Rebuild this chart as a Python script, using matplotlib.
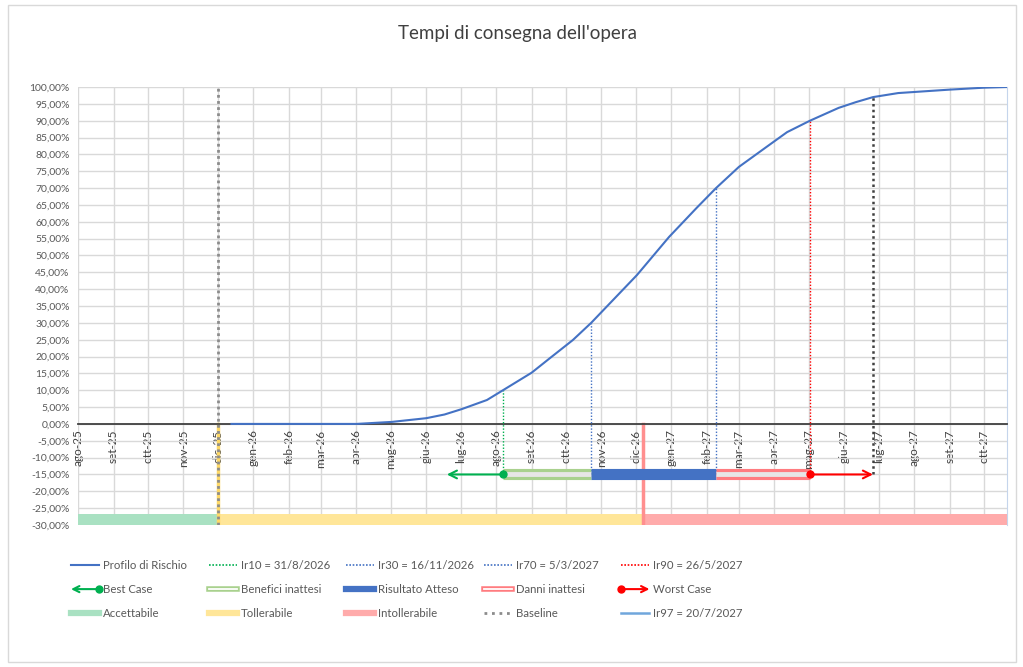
import numpy as np
import pandas as pd
import matplotlib
matplotlib.use("Agg")
import matplotlib.pyplot as plt
from matplotlib.lines import Line2D
from matplotlib.patches import FancyArrowPatch, Rectangle
from matplotlib.legend_handler import HandlerBase

plt.rcParams['font.family'] = ['Lato', 'DejaVu Sans']

# dati
curve_dates = ['2026-01-06', '2026-04-25', '2026-05-26', '2026-06-25', '2026-07-11',
               '2026-07-26', '2026-08-17', '2026-08-31', '2026-09-25', '2026-10-12',
               '2026-10-31', '2026-11-16', '2026-12-26', '2027-01-23', '2027-02-16',
               '2027-03-05', '2027-03-25', '2027-04-18', '2027-05-06', '2027-05-26',
               '2027-06-20', '2027-07-05', '2027-07-20', '2027-08-11', '2027-09-24',
               '2027-10-25', '2027-11-14']
curve_pct = [0.0, 0.0, 0.6, 1.7, 2.8, 4.4, 7.1, 10.0, 15.2, 19.8, 24.9, 30.0, 44.2,
             55.5, 64.1, 70.0, 76.3, 82.2, 86.6, 90.0, 93.8, 95.5, 97.0, 98.2, 99.2,
             99.8, 100.0]

ir_names = ['Ir10 = 31/8/2026', 'Ir30 = 16/11/2026', 'Ir70 = 5/3/2027',
            'Ir90 = 26/5/2027', 'Ir97 = 20/7/2027']
ir_dates = ['2026-08-31', '2026-11-16', '2027-03-05', '2027-05-26', '2027-07-20']
ir_pct = [10, 30, 70, 90, 97]

baseline_date = '2025-12-25'
intoll_date = '2026-12-31'
best_date = '2026-07-13'
axis_start = '2025-08-25'
axis_end = '2027-11-14'
bar_level = -15

mesi = ['gen', 'feb', 'mar', 'apr', 'mag', 'giu', 'lug', 'ago', 'set', 'ott', 'nov', 'dic']

D = lambda s: pd.Timestamp(s)
cd = [D(s) for s in curve_dates]
ird = [D(s) for s in ir_dates]

fig = plt.figure(figsize=(10.23, 6.67), dpi=100)
ax = fig.add_axes([78/1023, 1 - 525/667, (1007-78)/1023, (525-87)/667])

grey_txt = '#595959'

# griglia e assi
ax.set_xlim(D(axis_start), D(axis_end))
ax.set_ylim(-30, 100)
ticks = pd.date_range('2025-08-01', '2027-10-01', freq='MS') + pd.Timedelta(days=24)
ax.set_xticks(ticks)
ax.set_xticklabels([f"{mesi[t.month-1]}-{t.strftime('%y')}" for t in ticks])
ax.set_yticks(np.arange(-30, 101, 5))
ax.set_yticklabels([f"{v:.2f}%".replace('.', ',') for v in np.arange(-30, 101, 5)])
ax.tick_params(length=0, labelsize=7.5, labelcolor=grey_txt)
ax.tick_params(axis='y', pad=6)
ax.tick_params(axis='x', pad=4, labelrotation=90, labelsize=8.5, labelcolor='#404040')
ax.grid(True, color='#D9D9D9', lw=1)
ax.set_axisbelow(True)
for s in ['top', 'left']:
    ax.spines[s].set_visible(False)
ax.spines['right'].set_color('#C5D5EC')
ax.spines['bottom'].set_position(('data', 0))
ax.spines['bottom'].set_color('#404040')
ax.spines['bottom'].set_linewidth(1.3)
ax.spines['bottom'].set_zorder(3)

# fasce
ax.fill_between([D(axis_start), D(baseline_date)], -30, -26.8, color='#A9E1C2', lw=0, zorder=1)
ax.fill_between([D(baseline_date), D(intoll_date)], -30, -26.8, color='#FFE699', lw=0, zorder=1)
ax.fill_between([D(intoll_date), D(axis_end)], -30, -26.8, color='#FFABAB', lw=0, zorder=1)
ax.plot([D(baseline_date)] * 2, [-30, 0], color='#FFD966', lw=2.5, zorder=2)
ax.plot([D(intoll_date)] * 2, [-30, 0], color='#FF8F8F', lw=2.5, zorder=2)

# baseline
ax.plot([D(baseline_date)] * 2, [-30, 100], color='#8C8C8C', lw=2, ls=(0, (1, 1.2)), zorder=4)

# profilo di rischio
ax.plot(cd, curve_pct, color='#4472C4', lw=1.5, zorder=5)

# linee Ir
ir_style = [('#00B050', 1.0), ('#4472C4', 1.0), ('#4472C4', 1.0), ('#FF0000', 1.0), ('#404040', 1.8)]
for d, p, (c, w) in zip(ird, ir_pct, ir_style):
    ax.plot([d, d], [bar_level, p], color=c, lw=w, ls=(0, (1, 1.3)), zorder=4)

# barre a -15%
ax.plot([ird[0], ird[1]], [bar_level] * 2, color='#A9D18E', lw=8, solid_capstyle='butt', zorder=6)
ax.plot([ird[0], ird[1]], [bar_level] * 2, color='#E7E6E6', lw=3.5, solid_capstyle='butt', zorder=6)
ax.plot([ird[1], ird[2]], [bar_level] * 2, color='#4472C4', lw=8, solid_capstyle='butt', zorder=6)
ax.plot([ird[2], ird[3]], [bar_level] * 2, color='#FF7C80', lw=8, solid_capstyle='butt', zorder=6)
ax.plot([ird[2], ird[3]], [bar_level] * 2, color='#E7E6E6', lw=3.5, solid_capstyle='butt', zorder=6)

ax.annotate('', xy=(D(best_date), bar_level), xytext=(ird[0], bar_level),
            arrowprops=dict(arrowstyle='->', color='#00B050', lw=1.5, mutation_scale=14,
                            shrinkA=0, shrinkB=0), zorder=7)
ax.plot([ird[0]], [bar_level], 'o', color='#00B050', ms=5, zorder=8)
ax.annotate('', xy=(ird[4], bar_level), xytext=(ird[3], bar_level),
            arrowprops=dict(arrowstyle='->', color='#FF0000', lw=1.5, mutation_scale=14,
                            shrinkA=0, shrinkB=0), zorder=7)
ax.plot([ird[3]], [bar_level], 'o', color='#FF0000', ms=5, zorder=8)

fig.text(518/1023, 1 - 33/667, "Tempi di consegna dell'opera", ha='center', va='center',
         fontsize=13.5, color='#404040')


# legenda
class ArrowHandler(HandlerBase):
    def __init__(self, left):
        super().__init__()
        self.left = left

    def create_artists(self, legend, orig_handle, xdescent, ydescent, width, height, fontsize, trans):
        y = height / 2 - ydescent
        x0, x1 = -xdescent, -xdescent + width
        c = orig_handle.get_color()
        tail, head = (x1, x0) if self.left else (x0, x1)
        arr = FancyArrowPatch((tail, y), (head, y), arrowstyle='->', mutation_scale=11,
                              color=c, lw=1.5, transform=trans, shrinkA=0, shrinkB=0)
        dot = Line2D([tail], [y], marker='o', color=c, ms=5, transform=trans)
        return [arr, dot]


class DoubleHandler(HandlerBase):
    def create_artists(self, legend, orig_handle, xdescent, ydescent, width, height, fontsize, trans):
        y = height / 2 - ydescent
        x0, x1 = -xdescent, -xdescent + width
        a = Line2D([x0, x1], [y, y], color=orig_handle.get_color(), lw=4, transform=trans)
        b = Line2D([x0, x1], [y, y], color='white', lw=1.3, transform=trans)
        return [a, b]


h_prof = Line2D([], [], color='#4472C4', lw=1.5)
h_ir = [Line2D([], [], color=c, lw=1.2, ls=(0, (1, 1))) for c, w in ir_style[:4]]
h_best = Line2D([], [], color='#00B050')
h_ben = Line2D([], [], color='#A9D18E')
h_ris = Line2D([], [], color='#4472C4', lw=4.5)
h_dan = Line2D([], [], color='#FF7C80')
h_worst = Line2D([], [], color='#FF0000')
h_acc = Line2D([], [], color='#A9E1C2', lw=4.5)
h_tol = Line2D([], [], color='#FFE699', lw=4.5)
h_int = Line2D([], [], color='#FFABAB', lw=4.5)
h_base = Line2D([], [], color='#8C8C8C', lw=2, ls=(0, (1, 1.7)))
h_97 = Line2D([], [], color='#70A6DC', lw=1.8)

columns = [([h_prof, h_best, h_acc], ['Profilo di Rischio', 'Best Case', 'Accettabile']),
           ([h_ir[0], h_ben, h_tol], [ir_names[0], 'Benefici inattesi', 'Tollerabile']),
           ([h_ir[1], h_ris, h_int], [ir_names[1], 'Risultato Atteso', 'Intollerabile']),
           ([h_ir[2], h_dan, h_base], [ir_names[2], 'Danni inattesi', 'Baseline']),
           ([h_ir[3], h_worst, h_97], [ir_names[3], 'Worst Case', ir_names[4]])]
hmap = {h_best: ArrowHandler(True), h_worst: ArrowHandler(False),
        h_ben: DoubleHandler(), h_dan: DoubleHandler()}

for i, (hs, ls) in enumerate(columns):
    fig.legend(hs, ls, loc='upper left', bbox_to_anchor=((71 + i*137.5)/1023, 1 - 560/667),
               frameon=False, borderpad=0, borderaxespad=0,
               fontsize=8.2, labelcolor=grey_txt, handlelength=2.5, handletextpad=0.35,
               labelspacing=1.15, handler_map=hmap)

fig.patches.append(Rectangle((8/1023, 5/667), (1016-8)/1023, (662-5)/667, transform=fig.transFigure,
                             fill=False, edgecolor='#D9D9D9', lw=1))

fig.savefig('out.png', dpi=100)
